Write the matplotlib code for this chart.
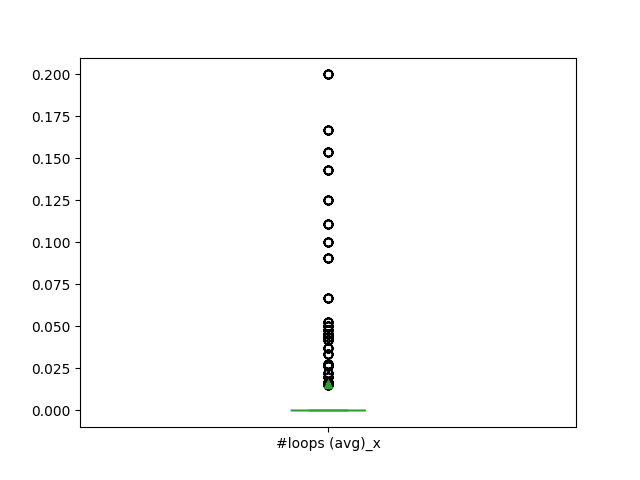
import numpy as np
import pandas as pd
import matplotlib
matplotlib.use("Agg")
import matplotlib.pyplot as plt

# outlier values (avg loops), each appears several times in the data
outliers = [0.2, 0.1667, 0.1538, 0.1429, 0.125, 0.1111, 0.1, 0.0909, 0.0667,
            0.0526, 0.05, 0.0476, 0.0455, 0.0435, 0.0417, 0.037, 0.0333,
            0.0278, 0.0263, 0.0222, 0.02, 0.0167, 0.0154]
repeats = 20
n_zeros = 1650

vals = [0.0] * n_zeros
for v in outliers:
    vals += [v] * repeats

df = pd.DataFrame({"#loops (avg)_x": vals})

fig, ax = plt.subplots(figsize=(6.4, 4.8), dpi=100)
df.plot.box(ax=ax, showmeans=True)
fig.savefig("out.png")
